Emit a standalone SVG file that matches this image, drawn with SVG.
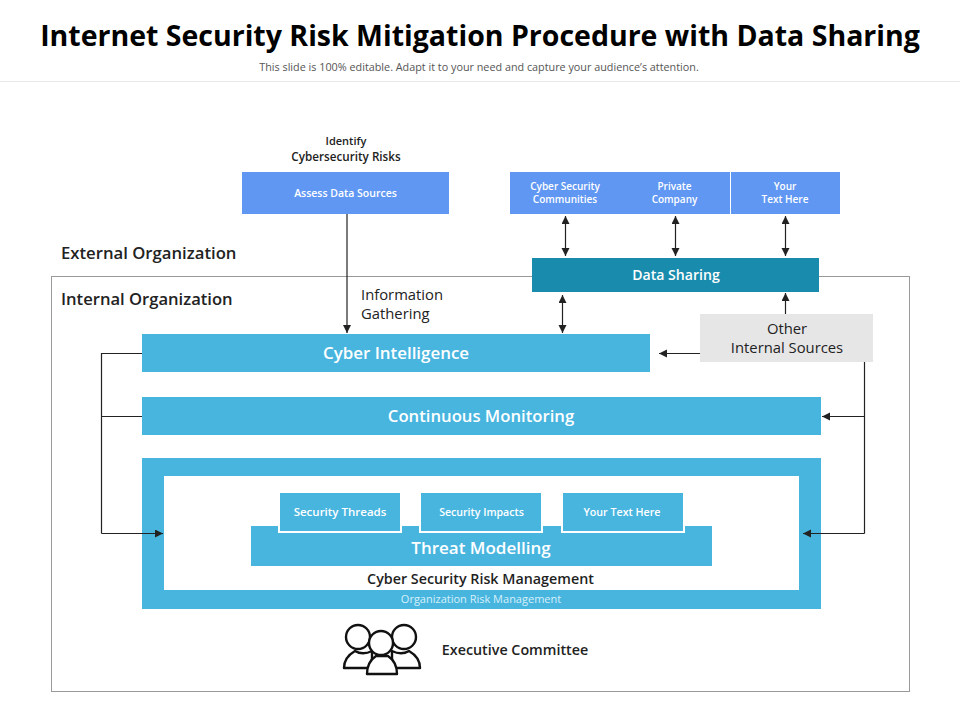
<svg xmlns="http://www.w3.org/2000/svg" width="960" height="720" viewBox="0 0 960 720">
<style>
text{font-family:"Open Sans","Noto Sans","Liberation Sans",sans-serif;text-anchor:middle}
.w{fill:#fff}.d{fill:#222}.k{fill:#1f1f1f}
.st{text-anchor:start}
.b{font-weight:700}.s{font-weight:600}
.blue{fill:#48b5df}.peri{fill:#6097f3}
.ln{fill:none;stroke:#222;stroke-width:1.2}
.lnm{fill:none;stroke:#222;stroke-width:1.2;marker-end:url(#a)}
.lnb{fill:none;stroke:#222;stroke-width:1.2;marker-start:url(#a);marker-end:url(#a)}
.ic{fill:#fff;stroke:#111;stroke-width:2.4;stroke-linejoin:round}
</style>
<defs><marker id="a" markerUnits="userSpaceOnUse" markerWidth="9" markerHeight="9" refX="8" refY="4" orient="auto-start-reverse"><path d="M0 0L8 4L0 8Z" fill="#222"/></marker></defs>
<rect width="960" height="720" fill="#fff"/>
<text x="480" y="45.500" font-size="28.500" class="b" fill="#000">Internet Security Risk Mitigation Procedure with Data Sharing</text>
<text x="479" y="71" font-size="10.800" fill="#555">This slide is 100% editable. Adapt it to your need and capture your audience’s attention.</text>
<path d="M0 81.500H960" stroke="#e8e8e8" fill="none"/>
<rect id="internal-frame" x="51.500" y="276.500" width="858" height="415" fill="#fff" stroke="#999"/>
<g id="labels">
<text x="346" y="145" font-size="11" class="s d">Identify</text>
<text x="346" y="161" font-size="11.700" class="s d">Cybersecurity Risks</text>
<text x="61" y="259" font-size="16.700" class="s d st">External Organization</text>
<text x="61" y="305" font-size="16.600" class="s d st">Internal Organization</text>
<text x="361" y="300" font-size="14.800" class="d st">Information</text>
<text x="361" y="319" font-size="14.800" class="d st">Gathering</text>
</g>
<g id="assess"><rect x="242" y="172" width="207" height="42" class="peri"/><text x="345.500" y="197" font-size="10.500" class="s w">Assess Data Sources</text></g>
<g id="sources"><rect x="510" y="172" width="330" height="42" class="peri"/><path d="M730.500 172V214" stroke="#fff" fill="none"/>
<text x="565" y="190" font-size="10" class="s w">Cyber Security</text><text x="565" y="203" font-size="10" class="s w">Communities</text>
<text x="674.500" y="190" font-size="10" class="s w">Private</text><text x="674.500" y="203" font-size="10" class="s w">Company</text>
<text x="785" y="190" font-size="10" class="s w">Your</text><text x="785" y="203" font-size="10" class="s w">Text Here</text></g>
<g id="data-sharing"><rect x="532" y="258" width="287" height="34" fill="#198cae"/><text x="676" y="280" font-size="14.100" class="s w">Data Sharing</text></g>
<g id="other-sources"><rect x="700" y="314" width="173" height="48" fill="#e7e6e7"/><text x="787" y="334" font-size="14.800" class="d">Other</text><text x="787" y="353" font-size="14.800" class="d">Internal Sources</text></g>
<g id="cyber-intelligence"><rect x="142" y="334" width="508" height="38" class="blue"/><text x="396" y="358.500" font-size="16.900" class="s w">Cyber Intelligence</text></g>
<g id="continuous-monitoring"><rect x="142" y="397" width="679" height="38" class="blue"/><text x="481" y="421.500" font-size="16.700" class="s w">Continuous Monitoring</text></g>
<g id="risk-management">
<rect x="142" y="458" width="679" height="151" class="blue"/>
<rect x="164" y="476" width="635" height="114" fill="#fff"/>
<text x="481" y="603" font-size="11" fill="#d6f0fa">Organization Risk Management</text>
<text x="480.500" y="584" font-size="14.300" class="s k">Cyber Security Risk Management</text>
</g>
<g id="threat-modelling"><rect x="251" y="526" width="461" height="40" class="blue"/><text x="481" y="553.500" font-size="17" class="s w">Threat Modelling</text></g>
<g id="threads"><rect x="279" y="492" width="122" height="40" class="blue" stroke="#fff" stroke-width="2"/><text x="340" y="516" font-size="11.500" class="s w">Security Threads</text></g>
<g id="impacts"><rect x="420" y="492" width="122" height="40" class="blue" stroke="#fff" stroke-width="2"/><text x="481.500" y="516" font-size="10.600" class="s w">Security Impacts</text></g>
<g id="your-text"><rect x="562" y="492" width="122" height="40" class="blue" stroke="#fff" stroke-width="2"/><text x="622" y="516" font-size="10.700" class="s w">Your Text Here</text></g>
<g id="executive-committee">
<path class="ic" d="M372 668H344C344 660 348 655 355 651C360 654 366 654 372 651Z"/>
<path class="ic" d="M392 668H420C420 660 416 655 409 651C404 654 398 654 392 651Z"/>
<circle class="ic" cx="358" cy="637" r="12"/>
<circle class="ic" cx="404" cy="637" r="12"/>
<path class="ic" d="M367 674C367 665 370 660 376 656H388C394 660 397 665 397 674Z"/>
<circle class="ic" cx="381" cy="643" r="12"/>
<text x="515" y="655" font-size="14.300" class="s d">Executive Committee</text>
</g>
<g id="connectors">
<path class="lnm" d="M347 214V333"/>
<path class="lnb" d="M565.500 216V256"/>
<path class="lnb" d="M675.500 216V256"/>
<path class="lnb" d="M785.500 216V256"/>
<path class="lnb" d="M562.500 295V333"/>
<path class="lnm" d="M785.500 314V293"/>
<path class="lnm" d="M700 353.500H659"/>
<path class="ln" d="M142 353.500H101.500V533.500"/>
<path class="ln" d="M142 416.500H101.500"/>
<path class="lnm" d="M101.500 533.500H163"/>
<path class="ln" d="M864.500 362V533.500"/>
<path class="lnm" d="M864.500 416.500H822"/>
<path class="lnm" d="M864.500 533.500H803"/>
</g>
</svg>
